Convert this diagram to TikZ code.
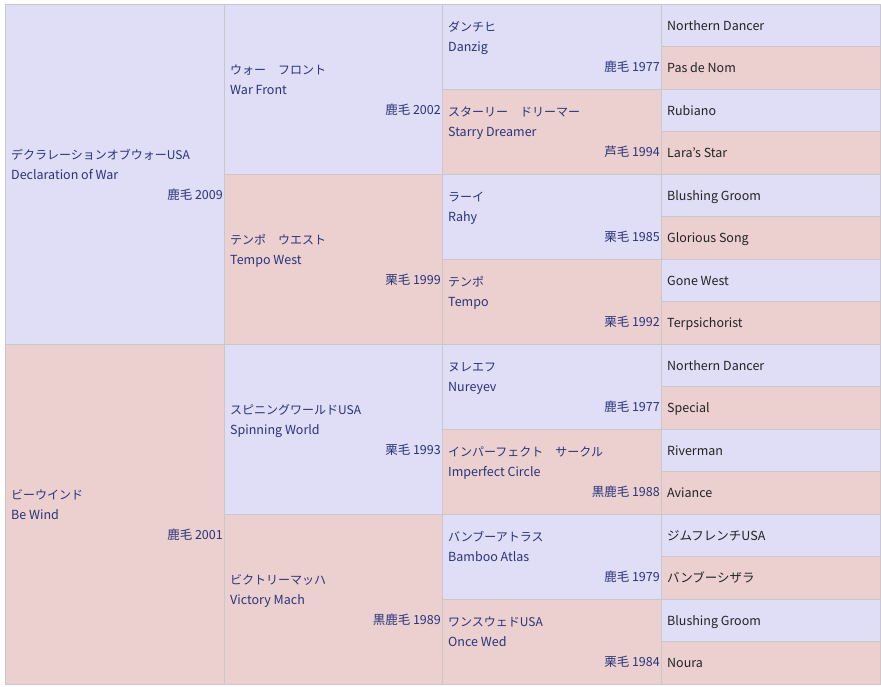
\documentclass[tikz,border=0pt]{standalone}
\usepackage{fontspec}
\setmainfont{Noto Sans CJK JP}
\usetikzlibrary{fit}
\definecolor{lav}{RGB}{224,221,246}
\definecolor{pnk}{RGB}{236,208,208}
\definecolor{gridc}{RGB}{200,200,204}
\definecolor{navy}{RGB}{40,52,122}
\definecolor{dark}{RGB}{34,34,34}
\tikzset{
  cellbox/.style={draw=gridc, line width=0.9pt, inner sep=0pt, outer sep=0pt},
  jptxt/.style={text=navy, font=\fontsize{12}{14}\selectfont, inner sep=0pt, anchor=base west},
  nametxt/.style={text=navy, font=\fontsize{12.5}{14}\selectfont, inner sep=0pt, anchor=base west},
  yeartxt/.style={text=navy, font=\fontsize{12.5}{14}\selectfont, inner sep=0pt, anchor=base east},
  g4txt/.style={text=dark, font=\fontsize{12.5}{14}\selectfont, inner sep=0pt, anchor=base west}
}
\newcommand\hcell[9]{%
  \node[cellbox, fill=#6, fit={(#2,#3) (#4,#5)}] (#1) {};
  \node[jptxt] (#1-jp) at ([xshift=6pt,yshift=15pt]#1.west) {#7};
  \node[nametxt] (#1-en) at ([xshift=6pt,yshift=-5pt]#1.west) {#8};
  \node[yeartxt] (#1-yr) at ([xshift=-1pt,yshift=-25pt]#1.east) {#9};
}
\newcommand\gcell[5]{%
  \node[cellbox, fill=#4, fit={(661,#2) (880,#3)}] (#1) {};
  \node[g4txt] (#1-t) at ([xshift=6pt,yshift=-5pt]#1.west) {#5};
}
\begin{document}
\begin{tikzpicture}[x=1pt,y=-1pt]
\useasboundingbox[fill=white] (0,0) rectangle (881,686);
% generation 1
\hcell{a}{5}{4}{224}{344}{lav}{デクラレーションオブウォーUSA}{Declaration of War}{鹿毛 2009}
\hcell{b}{5}{344}{224}{684}{pnk}{ビーウインド}{Be Wind}{鹿毛 2001}
% generation 2
\hcell{aa}{224}{4}{442}{174}{lav}{ウォー　フロント}{War Front}{鹿毛 2002}
\hcell{ab}{224}{174}{442}{344}{pnk}{テンポ　ウエスト}{Tempo West}{栗毛 1999}
\hcell{ba}{224}{344}{442}{514}{lav}{スピニングワールドUSA}{Spinning World}{栗毛 1993}
\hcell{bb}{224}{514}{442}{684}{pnk}{ビクトリーマッハ}{Victory Mach}{黒鹿毛 1989}
% generation 3
\hcell{aaa}{442}{4}{661}{89}{lav}{ダンチヒ}{Danzig}{鹿毛 1977}
\hcell{aab}{442}{89}{661}{174}{pnk}{スターリー　ドリーマー}{Starry Dreamer}{芦毛 1994}
\hcell{aba}{442}{174}{661}{259}{lav}{ラーイ}{Rahy}{栗毛 1985}
\hcell{abb}{442}{259}{661}{344}{pnk}{テンポ}{Tempo}{栗毛 1992}
\hcell{baa}{442}{344}{661}{429}{lav}{ヌレエフ}{Nureyev}{鹿毛 1977}
\hcell{bab}{442}{429}{661}{514}{pnk}{インパーフェクト　サークル}{Imperfect Circle}{黒鹿毛 1988}
\hcell{bba}{442}{514}{661}{599}{lav}{バンブーアトラス}{Bamboo Atlas}{鹿毛 1979}
\hcell{bbb}{442}{599}{661}{684}{pnk}{ワンスウェドUSA}{Once Wed}{栗毛 1984}
% generation 4
\gcell{g1}{4}{46.5}{lav}{Northern Dancer}
\gcell{g2}{46.5}{89}{pnk}{Pas de Nom}
\gcell{g3}{89}{131.5}{lav}{Rubiano}
\gcell{g4}{131.5}{174}{pnk}{Lara's Star}
\gcell{g5}{174}{216.5}{lav}{Blushing Groom}
\gcell{g6}{216.5}{259}{pnk}{Glorious Song}
\gcell{g7}{259}{301.5}{lav}{Gone West}
\gcell{g8}{301.5}{344}{pnk}{Terpsichorist}
\gcell{g9}{344}{386.5}{lav}{Northern Dancer}
\gcell{g10}{386.5}{429}{pnk}{Special}
\gcell{g11}{429}{471.5}{lav}{Riverman}
\gcell{g12}{471.5}{514}{pnk}{Aviance}
\gcell{g13}{514}{556.5}{lav}{ジムフレンチUSA}
\gcell{g14}{556.5}{599}{pnk}{バンブーシザラ}
\gcell{g15}{599}{641.5}{lav}{Blushing Groom}
\gcell{g16}{641.5}{684}{pnk}{Noura}
\end{tikzpicture}
\end{document}
